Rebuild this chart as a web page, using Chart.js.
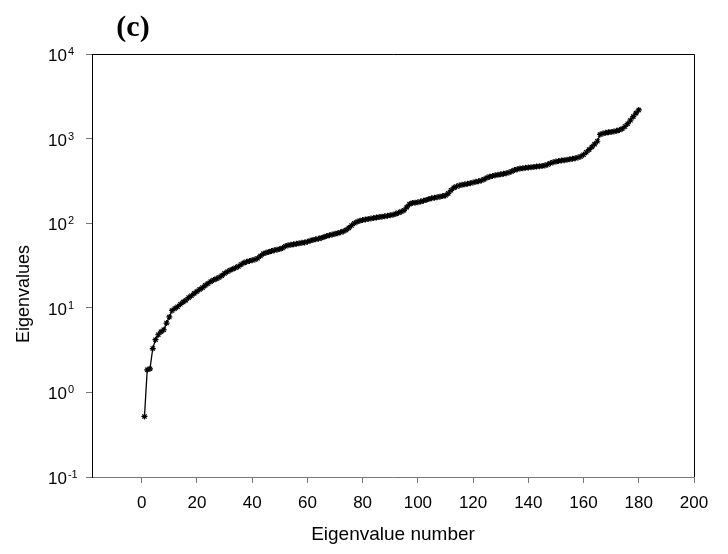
<!DOCTYPE html>
<html>
<head>
<meta charset="utf-8">
<script src="https://cdn.jsdelivr.net/npm/chart.js@4.4.1/dist/chart.umd.min.js"></script>
<style>
  html, body { margin: 0; padding: 0; background: #fff; }
  canvas { display: block; }
</style>
</head>
<body>
<canvas id="eigChart" width="728" height="554"></canvas>
<script>
// eigenvalues in ascending order, eigenvalue number = position in the list (1..180)
const eigenvalues = [
    0.52, 1.85, 1.9, 3.3, 4.2, 4.8, 5.2, 5.5, 6.6, 7.8,
    9.3, 9.8, 10.3, 11.0, 11.7, 12.3, 13.2, 13.9, 14.8, 15.6,
    16.5, 17.3, 18.4, 19.4, 20.4, 21.3, 22.0, 22.8, 24.0, 25.5,
    26.7, 27.8, 28.8, 29.8, 30.8, 32.5, 34.0, 35.0, 35.8, 36.5,
    37.3, 38.5, 41.0, 43.5, 44.8, 45.8, 46.8, 47.8, 48.7, 49.6,
    51.0, 53.5, 54.8, 55.5, 56.2, 57.0, 57.8, 58.6, 59.3, 60.3,
    62.0, 63.5, 64.5, 65.5, 67.0, 68.8, 70.5, 72.0, 73.3, 74.8,
    76.3, 78.0, 80.0, 83.0, 88.0, 94.0, 100, 104, 107, 109,
    110.5, 112, 113.5, 115, 116.5, 118, 119.5, 121, 122.5, 124,
    126, 129, 133, 137, 142, 155, 168, 173, 175, 177,
    180, 184, 188, 193, 197, 200, 203, 206, 209, 213,
    225, 245, 262, 272, 279, 284, 288, 292, 297, 303,
    308, 313, 320, 330, 345, 355, 362, 368, 373, 378,
    383, 389, 398, 410, 424, 435, 442, 447, 451, 455,
    459, 463, 467, 471, 475, 482, 495, 512, 525, 535,
    543, 550, 556, 562, 569, 576, 585, 598, 615, 645,
    690, 740, 795, 860, 930, 1120, 1150, 1170, 1185, 1200,
    1215, 1235, 1265, 1310, 1390, 1500, 1650, 1820, 2000, 2180
];

const xTicks = [0, 20, 40, 60, 80, 100, 120, 140, 160, 180, 200];
const yTickExps = [-1, 0, 1, 2, 3, 4];

const points = eigenvalues.map((v, i) => ({ x: i + 1, y: v }));

const SANS = '"Liberation Sans", Arial, sans-serif';

// box edges, "10^n" labels and the headings
const decorations = {
    id: 'decorations',
    afterDraw(chart) {
        const { ctx, chartArea: a } = chart;
        const y = chart.scales.y;
        ctx.save();
        ctx.strokeStyle = '#000';
        ctx.lineWidth = 1;
        ctx.beginPath();
        ctx.moveTo(a.left, a.top + 0.5);
        ctx.lineTo(a.right + 0.5, a.top + 0.5);
        ctx.lineTo(a.right + 0.5, a.bottom);
        ctx.stroke();

        ctx.fillStyle = '#000';
        ctx.textBaseline = 'alphabetic';
        ctx.textAlign = 'left';
        yTickExps.forEach(e => {
            const py = y.getPixelForValue(Math.pow(10, e));
            ctx.font = '17px ' + SANS;
            ctx.fillText('10', 48, py + 7);
            const w = ctx.measureText('10').width;
            ctx.font = '11px ' + SANS;
            ctx.fillText(String(e), 48 + w + 1, py + 1);
        });

        ctx.font = '18px ' + SANS;
        ctx.textAlign = 'center';
        ctx.textBaseline = 'middle';
        ctx.translate(24, 294);
        ctx.rotate(-Math.PI / 2);
        ctx.fillText('Eigenvalues', 0, 0);
        ctx.setTransform(1, 0, 0, 1, 0, 0);

        ctx.font = 'bold 30px "Liberation Serif", "Times New Roman", serif';
        ctx.textAlign = 'center';
        ctx.textBaseline = 'alphabetic';
        ctx.fillText('(c)', 133, 36);
        ctx.restore();
    }
};

new Chart(document.getElementById('eigChart'), {
    type: 'line',
    data: {
        datasets: [{
            data: points,
            borderColor: '#000',
            borderWidth: 1.3,
            pointStyle: 'star',
            pointRadius: 3,
            pointBorderWidth: 1.2,
            pointBorderColor: '#000',
            pointBackgroundColor: '#000',
            tension: 0
        }]
    },
    options: {
        responsive: false,
        animation: false,
        devicePixelRatio: 1,
        layout: { padding: { left: 0, right: 34, top: 54, bottom: 0 } },
        plugins: { legend: { display: false }, tooltip: { enabled: false } },
        scales: {
            x: {
                type: 'linear',
                min: -18,
                max: 200,
                afterBuildTicks: s => { s.ticks = xTicks.map(v => ({ value: v })); },
                afterFit: s => { s.height = 77; },
                grid: { drawOnChartArea: false, drawTicks: true, tickLength: 6, color: '#777' },
                border: { color: '#777', width: 1 },
                ticks: {
                    color: '#000',
                    padding: 10,
                    maxRotation: 0,
                    font: { family: SANS, size: 17 }
                },
                title: {
                    display: true,
                    text: 'Eigenvalue number',
                    color: '#000',
                    padding: { top: 4, bottom: 8 },
                    font: { family: SANS, size: 19 }
                }
            },
            y: {
                type: 'logarithmic',
                min: 0.1,
                max: 10000,
                afterBuildTicks: s => { s.ticks = yTickExps.map(e => ({ value: Math.pow(10, e) })); },
                afterFit: s => { s.width = 92; },
                grid: { drawOnChartArea: false, drawTicks: true, tickLength: 6, color: '#777' },
                border: { color: '#000', width: 1 },
                ticks: { display: false }
            }
        }
    },
    plugins: [decorations]
});
</script>
</body>
</html>
